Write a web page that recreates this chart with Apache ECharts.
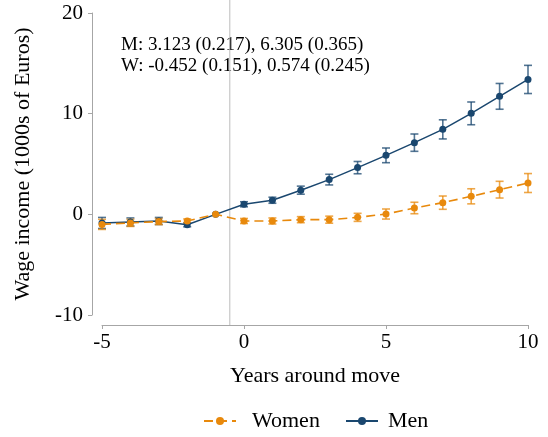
<!DOCTYPE html>
<html>
<head>
<meta charset="utf-8">
<script src="https://cdn.jsdelivr.net/npm/echarts@6/dist/echarts.min.js"></script>
<style>html,body{margin:0;padding:0;background:#fff}#c{width:548px;height:437px}</style>
</head>
<body>
<div id="c"></div>
<script>
const years = [-5,-4,-3,-2,-1,0,1,2,3,4,5,6,7,8,9,10];
const menCoef = [-0.86,-0.76,-0.66,-1.04,0,1.0,1.4,2.4,3.45,4.64,5.86,7.12,8.44,10.03,11.72,13.4];
const menErr  = [0.55,0.4,0.35,0.2,0,0.25,0.3,0.4,0.53,0.61,0.73,0.86,0.95,1.13,1.28,1.4];
const womenCoef = [-1.0,-0.85,-0.72,-0.66,0,-0.66,-0.66,-0.53,-0.53,-0.3,0.03,0.63,1.16,1.79,2.45,3.11];
const womenErr  = [0.5,0.35,0.3,0.2,0,0.25,0.3,0.3,0.35,0.4,0.5,0.57,0.66,0.75,0.83,0.94];
const yTicks = [-10,0,10,20];
const xTicks = [-5,0,5,10];
const moveLine = -0.5;
const noteLines = ['M: 3.123 (0.217), 6.305 (0.365)', 'W: -0.452 (0.151), 0.574 (0.245)'];

const MEN = '#1a476f', WOMEN = '#e8890c';
const FONT = 'Liberation Serif';

function errSeries(name, color, coef, err, z) {
  return {
    type: 'custom', name: name + ' CI', z: z,
    data: years.map((x, i) => [x, coef[i] - err[i], coef[i] + err[i]]).filter((d, i) => err[i] > 0),
    renderItem: function (params, api) {
      const x = api.value(0);
      const p1 = api.coord([x, api.value(1)]);
      const p2 = api.coord([x, api.value(2)]);
      const w = 4;
      const st = { stroke: color, lineWidth: 1.6, opacity: 0.75 };
      return { type: 'group', children: [
        { type: 'line', shape: { x1: p1[0], y1: p1[1], x2: p2[0], y2: p2[1] }, style: st },
        { type: 'line', shape: { x1: p1[0]-w, y1: p1[1], x2: p1[0]+w, y2: p1[1] }, style: st },
        { type: 'line', shape: { x1: p2[0]-w, y1: p2[1], x2: p2[0]+w, y2: p2[1] }, style: st }
      ]};
    },
    silent: true
  };
}

const legendBase = { top: 405, itemWidth: 32, itemHeight: 10, padding: 5 };
const chart = echarts.init(document.getElementById('c'), null, { renderer: 'canvas' });
chart.setOption({
  animation: false,
  textStyle: { fontFamily: FONT },
  grid: { left: 102, right: 20, top: 13, bottom: 122 },
  xAxis: {
    type: 'value', min: -5, max: 10, interval: 5, offset: 10,
    axisLine: { show: true, onZero: false, lineStyle: { color: '#a6a6a6', width: 1 } },
    axisTick: { show: true, length: 4, lineStyle: { color: '#a6a6a6' } },
    splitLine: { show: false },
    axisLabel: { color: '#000', fontFamily: FONT, fontSize: 21, margin: 7 },
    name: 'Years around move', nameLocation: 'middle', nameGap: 40,
    nameTextStyle: { color: '#000', fontFamily: FONT, fontSize: 22 }
  },
  yAxis: {
    type: 'value', min: -10, max: 20, interval: 10, offset: 10,
    axisLine: { show: true, onZero: false, lineStyle: { color: '#a6a6a6', width: 1 } },
    axisTick: { show: true, length: 4, lineStyle: { color: '#a6a6a6' } },
    splitLine: { show: false },
    axisLabel: { color: '#000', fontFamily: FONT, fontSize: 21, margin: 9 },
    name: 'Wage income (1000s of Euros)', nameLocation: 'middle', nameGap: 58,
    nameTextStyle: { color: '#000', fontFamily: FONT, fontSize: 22 }
  },
  legend: [
    Object.assign({}, legendBase, { left: 198, data: ['Women'],
      textStyle: { color: '#000', fontFamily: FONT, fontSize: 22, padding: [0, 0, 0, 11] } }),
    Object.assign({}, legendBase, { left: 340, data: ['Men'],
      textStyle: { color: '#000', fontFamily: FONT, fontSize: 22, padding: [0, 0, 0, 5] } })
  ],
  graphic: [{
    type: 'text', left: 121, top: 35,
    style: { text: noteLines.join('\n'), fill: '#000', font: '19px "Liberation Serif"', lineHeight: 21 }
  }],
  series: [
    {
      type: 'custom', name: 'move', silent: true, z: 1,
      data: [[moveLine]],
      renderItem: function (params, api) {
        const top = api.coord([api.value(0), 20]);
        const bot = api.coord([api.value(0), -10]);
        return { type: 'line', shape: { x1: top[0], y1: top[1] - 13, x2: bot[0], y2: bot[1] + 10 },
          style: { stroke: '#bdbdbd', lineWidth: 1 } };
      }
    },
    errSeries('Men', MEN, menCoef, menErr, 3),
    errSeries('Women', WOMEN, womenCoef, womenErr, 4),
    {
      name: 'Men', type: 'line', z: 5,
      data: years.map((x, i) => [x, menCoef[i]]),
      symbol: 'circle', symbolSize: 7, showSymbol: true,
      lineStyle: { color: MEN, width: 1.5 }, itemStyle: { color: MEN }
    },
    {
      name: 'Women', type: 'line', z: 6,
      data: years.map((x, i) => [x, womenCoef[i]]),
      symbol: 'circle', symbolSize: 7, showSymbol: true,
      lineStyle: { color: WOMEN, width: 1.6, type: [9, 5] }, itemStyle: { color: WOMEN }
    }
  ]
});
</script>
</body>
</html>
